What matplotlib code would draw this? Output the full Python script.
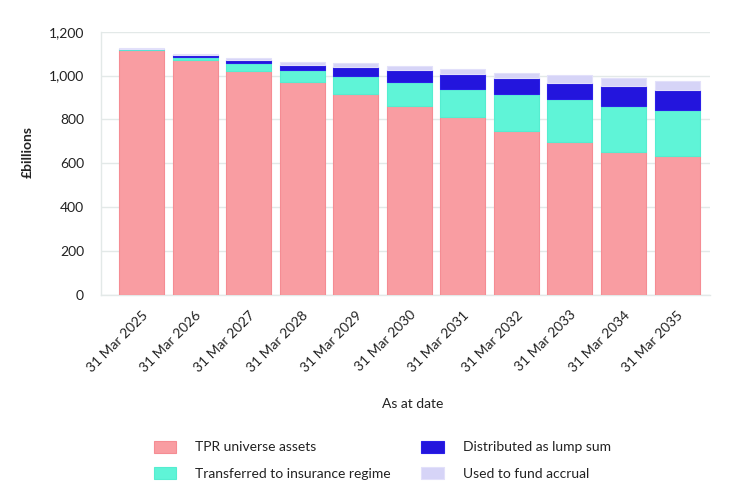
import numpy as np
import matplotlib.pyplot as plt
from matplotlib.ticker import FuncFormatter

plt.rcParams['font.family'] = ['Lato', 'DejaVu Sans']

# values (£ billions)
dates = ['31 Mar 2025', '31 Mar 2026', '31 Mar 2027', '31 Mar 2028', '31 Mar 2029',
         '31 Mar 2030', '31 Mar 2031', '31 Mar 2032', '31 Mar 2033', '31 Mar 2034',
         '31 Mar 2035']
tpr_assets = [1116, 1069, 1019, 973, 915, 860, 810, 749, 696, 652, 634]
insurance = [7, 16, 37, 53, 82, 110, 129, 167, 196, 211, 211]
lump_sum = [0, 7, 15, 23, 41, 54, 67, 74, 75, 89, 91]
accrual = [1, 6, 10, 14, 18, 18, 24, 24, 37, 37, 41]

series = [
    ('TPR universe assets', tpr_assets, '#F99DA2', '#F58C93'),
    ('Transferred to insurance regime', insurance, '#5FF4D7', '#55EDD0'),
    ('Distributed as lump sum', lump_sum, '#2315DD', '#2A1FE8'),
    ('Used to fund accrual', accrual, '#D6D4F7', '#E2E0FA'),
]

fig = plt.figure(figsize=(7.3, 5.04), dpi=100)
ax = fig.add_axes([0.138, 0.415, 0.835, 0.522])

x = np.arange(len(dates))
bottom = np.zeros(len(dates))
handles = []
for label, vals, color, edge in series:
    b = ax.bar(x, vals, width=0.84, bottom=bottom, color=color,
               edgecolor=edge, linewidth=0.8, label=label, zorder=3)
    handles.append(b)
    bottom += np.array(vals)

ax.set_xlim(-0.76, 10.62)
ax.set_ylim(0, 1200)
ax.set_yticks(range(0, 1201, 200))
ax.yaxis.set_major_formatter(FuncFormatter(lambda v, p: f'{int(v):,}'))
ax.grid(axis='y', color='#E3E9E8', linewidth=1, zorder=0)
ax.set_axisbelow(True)

for s in ['top', 'right']:
    ax.spines[s].set_visible(False)
for s in ['left', 'bottom']:
    ax.spines[s].set_color('#E3E9E8')
    ax.spines[s].set_linewidth(1)

ax.tick_params(axis='both', length=0, labelsize=10, colors='#222222')
ax.tick_params(axis='y', pad=12)
ax.set_xticks(x)
ax.set_xticklabels(dates, rotation=45, ha='right', rotation_mode='anchor')
ax.tick_params(axis='x', pad=10)

fig.text(28 / 730, 1 - 152 / 504, '£billions', rotation=90, ha='center', va='center',
         fontsize=10, fontweight='bold', color='#222222')
fig.text(413 / 730, 1 - 404 / 504, 'As at date', ha='center', va='center',
         fontsize=10, color='#222222')

leg = fig.legend(handles=handles, loc='upper left', ncol=2,
                 bbox_to_anchor=(141 / 730, 1 - 428 / 504),
                 frameon=False, fontsize=10, handlelength=1.6, handleheight=1.0,
                 handletextpad=1.4, labelspacing=0.95, columnspacing=2.2)
for t in leg.get_texts():
    t.set_color('#222222')

fig.savefig('out.png', dpi=100)
